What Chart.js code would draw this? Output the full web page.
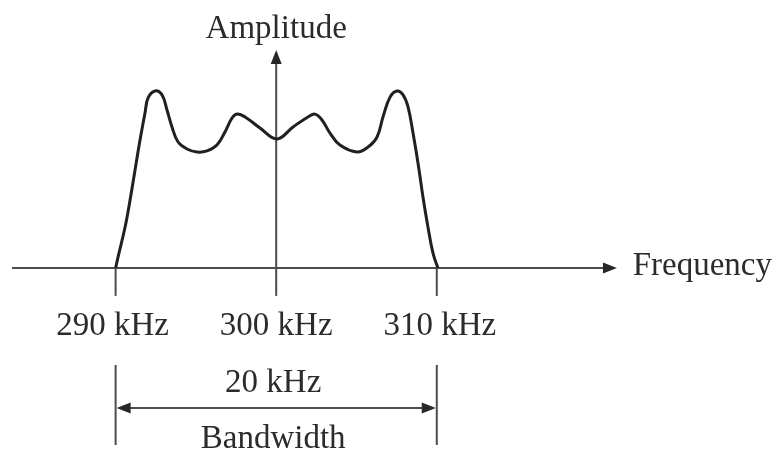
<!DOCTYPE html>
<html>
<head>
<meta charset="utf-8">
<script src="https://cdn.jsdelivr.net/npm/chart.js@4"></script>
<style>
  html, body { margin: 0; padding: 0; background: #ffffff; }
  #wrap { width: 774px; height: 460px; }
</style>
</head>
<body>
<div id="wrap"><canvas id="c" width="774" height="460"></canvas></div>
<script>
// ---- Data ----
const frequencyKHz = [290.0, 290.15, 290.59, 290.90, 291.21, 291.52, 291.83, 292.02, 292.45, 292.89,
  293.20, 293.51, 293.89, 294.45, 295.07, 295.69, 296.31, 296.81, 297.25, 297.56,
  298.06, 298.99, 300.05, 301.05, 301.98, 302.42, 302.85, 303.35, 303.97, 305.03,
  305.72, 306.28, 306.65, 307.09, 307.53, 307.90, 308.21, 308.52, 308.83, 309.14,
  309.45, 309.76, 310.07];
const amplitude = [0, 5.0, 18.8, 31.2, 45.0, 58.7, 71.1, 78.0, 81.2, 79.4,
  72.5, 64.7, 57.8, 54.6, 53.2, 53.7, 56.4, 62.4, 68.8, 70.6,
  69.3, 64.2, 59.2, 64.7, 69.3, 70.6, 67.9, 61.9, 56.4, 53.2,
  55.5, 60.1, 69.3, 78.4, 81.2, 79.4, 73.9, 61.9, 48.2, 32.6,
  18.8, 6.9, 0];
const tickValues = [290, 300, 310];
const tickLabels = ['290 kHz', '300 kHz', '310 kHz'];
const axisTitles = ['Frequency', 'Amplitude'];
const bandwidthLabels = ['20 kHz', 'Bandwidth'];
const bandwidthEdges = [290, 310];

const points = frequencyKHz.map((f, i) => ({ x: f, y: amplitude[i] }));

const FONT = '"Liberation Serif", "Times New Roman", serif';
const AXIS = '#4d4d4d';
const TEXT = '#2e2a2b';

function arrowHead(ctx, x, y, dir, len, half) {
  ctx.beginPath();
  if (dir === 'right') { ctx.moveTo(x, y); ctx.lineTo(x - len, y - half); ctx.lineTo(x - len, y + half); }
  if (dir === 'left')  { ctx.moveTo(x, y); ctx.lineTo(x + len, y - half); ctx.lineTo(x + len, y + half); }
  if (dir === 'up')    { ctx.moveTo(x, y); ctx.lineTo(x - half, y + len); ctx.lineTo(x + half, y + len); }
  ctx.closePath();
  ctx.fill();
}

const diagramPlugin = {
  id: 'diagram',
  beforeDatasetsDraw(chart) {
    const ctx = chart.ctx;
    const xs = chart.scales.x, ys = chart.scales.y;
    const y0 = ys.getPixelForValue(0);
    ctx.save();
    ctx.strokeStyle = AXIS;
    ctx.fillStyle = '#2a2627';
    ctx.lineWidth = 2;
    // horizontal (frequency) axis
    const xStart = xs.getPixelForValue(283.55), xEnd = xs.getPixelForValue(321.22);
    ctx.beginPath(); ctx.moveTo(xStart, y0); ctx.lineTo(xEnd - 10, y0); ctx.stroke();
    arrowHead(ctx, xEnd, y0, 'right', 14, 5.5);
    // vertical (amplitude) axis at 300 kHz
    const xc = xs.getPixelForValue(tickValues[1]);
    const yTop = ys.getPixelForValue(100);
    ctx.beginPath(); ctx.moveTo(xc, y0 + 1); ctx.lineTo(xc, yTop + 10); ctx.stroke();
    arrowHead(ctx, xc, yTop, 'up', 14, 5.5);
    // ticks below axis
    const yTick = ys.getPixelForValue(-12.8);
    tickValues.forEach(v => {
      const px = xs.getPixelForValue(v);
      ctx.beginPath(); ctx.moveTo(px, y0); ctx.lineTo(px, yTick); ctx.stroke();
    });
    // bandwidth extension lines
    const yb1 = ys.getPixelForValue(-44.5), yb2 = ys.getPixelForValue(-81.2);
    bandwidthEdges.forEach(v => {
      const px = xs.getPixelForValue(v);
      ctx.beginPath(); ctx.moveTo(px, yb1); ctx.lineTo(px, yb2); ctx.stroke();
    });
    // double arrow
    const ya = ys.getPixelForValue(-64.2);
    const xl = xs.getPixelForValue(bandwidthEdges[0]) + 1, xr = xs.getPixelForValue(bandwidthEdges[1]) - 1;
    ctx.beginPath(); ctx.moveTo(xl + 10, ya); ctx.lineTo(xr - 10, ya); ctx.stroke();
    arrowHead(ctx, xl, ya, 'left', 14, 5.5);
    arrowHead(ctx, xr, ya, 'right', 14, 5.5);
    ctx.restore();
  },
  afterDatasetsDraw(chart) {
    const ctx = chart.ctx;
    const xs = chart.scales.x, ys = chart.scales.y;
    ctx.save();
    ctx.fillStyle = TEXT;
    ctx.font = '33px ' + FONT;
    ctx.textBaseline = 'alphabetic';
    // tick labels
    ctx.textAlign = 'center';
    const yLab = ys.getPixelForValue(-30.7);
    tickValues.forEach((v, i) => {
      ctx.fillText(tickLabels[i], xs.getPixelForValue(v) - (i === 0 ? 3 : i === 2 ? -3 : 0), yLab);
    });
    // axis titles
    ctx.textAlign = 'left';
    ctx.fillText(axisTitles[0], xs.getPixelForValue(322.2), ys.getPixelForValue(-3.2));
    ctx.textAlign = 'center';
    ctx.fillText(axisTitles[1], xs.getPixelForValue(300), ys.getPixelForValue(105.5));
    // bandwidth labels
    const xm = xs.getPixelForValue((bandwidthEdges[0] + bandwidthEdges[1]) / 2) - 3;
    ctx.fillText(bandwidthLabels[0], xm, ys.getPixelForValue(-56.9));
    ctx.fillText(bandwidthLabels[1], xm, ys.getPixelForValue(-82.6));
    ctx.restore();
  }
};

new Chart(document.getElementById('c'), {
  type: 'line',
  data: {
    datasets: [{
      data: points,
      borderColor: '#231f20',
      borderWidth: 3,
      pointRadius: 0,
      fill: false,
      tension: 0.4,
      clip: false
    }]
  },
  options: {
    responsive: false,
    animation: false,
    devicePixelRatio: 1,
    layout: { padding: 0 },
    plugins: { legend: { display: false }, tooltip: { enabled: false } },
    scales: {
      x: { type: 'linear', display: false, min: 282.8, max: 331.0 },
      y: { type: 'linear', display: false, min: -88.07, max: 122.94 }
    }
  },
  plugins: [diagramPlugin]
});
</script>
</body>
</html>
